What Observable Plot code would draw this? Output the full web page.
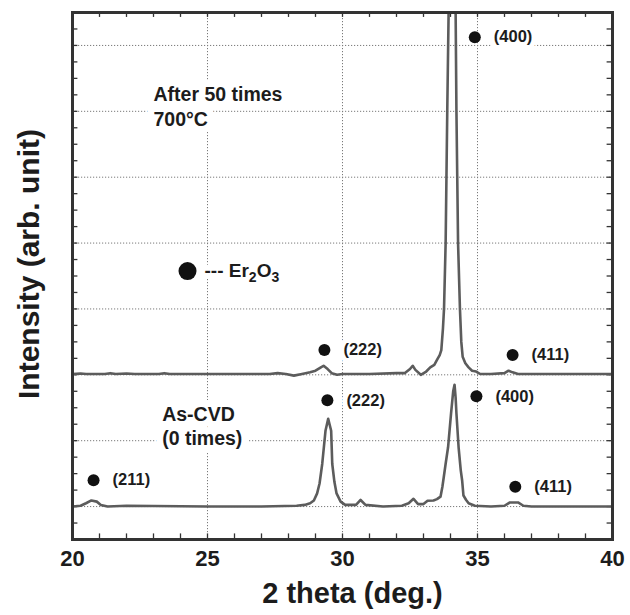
<!DOCTYPE html>
<html>
<head>
<meta charset="utf-8">
<script src="https://cdn.jsdelivr.net/npm/d3@7"></script>
<script src="https://cdn.jsdelivr.net/npm/@observablehq/plot@0.6"></script>
<style>
  html, body { margin: 0; padding: 0; background: #fff; }
  #chart { width: 630px; height: 615px; }
</style>
</head>
<body>
<div id="chart"></div>
<script>
// ---- Data ----
// Upper trace: "After 50 times 700°C" (offset baseline ~10)
const upperX = [20.0, 20.3, 20.5, 21.2, 21.4, 21.6, 22.0, 22.3, 23.2, 23.4, 23.6, 25.5, 27.3, 27.6, 27.9, 28.2, 28.5, 28.8, 29.0, 29.2, 29.3, 29.45, 29.6, 29.8, 30.0, 31.0, 32.0, 32.3, 32.5, 32.6, 32.7, 32.9, 33.1, 33.25, 33.4, 33.5, 33.6, 33.66, 33.72, 33.76, 33.82, 33.85, 33.88, 33.93, 34.0, 34.06, 34.12, 34.19, 34.22, 34.25, 34.28, 34.35, 34.4, 34.45, 34.55, 34.67, 34.8, 34.95, 35.1, 35.5, 36.0, 36.15, 36.3, 36.5, 40.0];
const upperY = [10.05, 10.08, 10.05, 10.05, 10.1, 10.05, 10.08, 10.05, 10.05, 10.1, 10.05, 10.05, 10.05, 10.1, 10.05, 9.95, 10.05, 10.15, 10.25, 10.45, 10.55, 10.35, 10.1, 10.0, 10.05, 10.05, 10.1, 10.1, 10.35, 10.55, 10.3, 10.0, 10.2, 10.45, 10.6, 10.9, 11.2, 11.5, 12.8, 14.0, 18.0, 22.0, 26.0, 32.0, 38.0, 40.0, 38.0, 32.0, 26.0, 22.0, 18.0, 14.0, 12.0, 11.1, 10.7, 10.45, 10.25, 10.2, 10.05, 10.05, 10.1, 10.25, 10.15, 10.05, 10.05];
// Lower trace: "As-CVD (0 times)" (baseline ~2)
const lowerX = [20.0, 20.3, 20.5, 20.7, 20.9, 21.05, 21.3, 22.0, 25.0, 27.0, 28.3, 28.6, 28.8, 28.94, 29.06, 29.15, 29.25, 29.37, 29.47, 29.52, 29.58, 29.62, 29.7, 29.78, 29.93, 30.1, 30.5, 30.67, 30.85, 31.5, 32.2, 32.45, 32.63, 32.8, 33.0, 33.15, 33.37, 33.5, 33.63, 33.7, 33.75, 33.82, 33.91, 34.02, 34.1, 34.15, 34.19, 34.22, 34.3, 34.38, 34.43, 34.48, 34.58, 34.67, 34.9, 35.5, 36.0, 36.2, 36.5, 36.7, 37.0, 40.0];
const lowerY = [2.0, 2.05, 2.2, 2.37, 2.3, 2.1, 2.0, 2.05, 2.0, 2.0, 2.05, 2.1, 2.2, 2.37, 2.8, 3.4, 4.6, 6.6, 7.33, 7.0, 6.6, 4.6, 3.5, 2.8, 2.3, 2.1, 2.1, 2.4, 2.1, 2.0, 2.05, 2.2, 2.47, 2.15, 2.15, 2.35, 2.37, 2.45, 2.6, 3.2, 3.78, 4.6, 5.6, 7.65, 9.0, 9.4, 8.6, 7.65, 5.6, 4.2, 3.6, 2.67, 2.4, 2.2, 2.05, 2.0, 2.05, 2.25, 2.25, 2.05, 2.0, 2.0];

// Peak annotations (dot + Miller index)
const peakLabels = ["(400)", "(222)", "(411)", "(222)", "(400)", "(411)", "(211)"];
const peakX = [34.9, 29.33, 36.3, 29.44, 34.96, 36.4, 20.78];
const peakY = [30.5, 11.5, 11.2, 8.45, 8.7, 3.2, 3.6];

// Sample notes
const noteLines = ["After 50 times", "700°C", "As-CVD", "(0 times)"];
const noteX = [23.0, 23.0, 23.32, 23.32];
const noteY = [27.0, 25.5, 7.6, 6.1];

// Legend
const legendText = ["--- Er2O3"];
const legendX = [24.26];
const legendY = [16.3];

// Axes
const xTickLabels = [20, 25, 30, 35, 40];
const xMinorTicks = [21, 22, 23, 24, 25, 26, 27, 28, 29, 30, 31, 32, 33, 34, 35, 36, 37, 38, 39];
const yMinorTicks = [1, 2, 3, 4, 5, 6, 7, 8, 9, 10, 11, 12, 13, 14, 15, 16, 17, 18, 19, 20, 21, 22, 23, 24, 25, 26, 27, 28, 29, 30, 31];
const xGrid = [25, 30, 35];
const yGrid = [2, 6, 10, 14, 18, 22, 26, 30];
const xTitle = "2 theta (deg.)";
const yTitle = "Intensity (arb. unit)";

// ---- Build tables ----
const upper = upperX.map((x, i) => ({x, y: upperY[i]}));
const lower = lowerX.map((x, i) => ({x, y: lowerY[i]}));
const peaks = peakLabels.map((t, i) => ({t, x: peakX[i], y: peakY[i]}));
const notes = noteLines.map((t, i) => ({t, x: noteX[i], y: noteY[i]}));
const legend = legendText.map((t, i) => ({t, x: legendX[i], y: legendY[i]}));

const FONT = "'Liberation Sans', Arial, Helvetica, sans-serif";
const INK = "#1c1c1c";
const LINE = "#5c5c5c";
const gridStyle = {stroke: "#7a7a7a", strokeWidth: 1, strokeDasharray: "1.2,1.8"};
const legendStyle = {x: "x", y: "y", text: "t", textAnchor: "start", dx: 17, fontSize: 19, fontWeight: "bold"};

const chart = Plot.plot({
  width: 630,
  height: 615,
  marginLeft: 72,
  marginRight: 18,
  marginTop: 12,
  marginBottom: 76,
  x: {domain: [20, 40]},
  y: {domain: [0, 32], axis: null},
  style: {fontFamily: FONT, background: "white", color: INK, overflow: "visible"},
  marks: [
    Plot.ruleX(xGrid, gridStyle),
    Plot.ruleY(yGrid, gridStyle),
    // notes & labels with white halo to interrupt grid
    Plot.text(notes, {x: "x", y: "y", text: "t", textAnchor: "start", fontSize: 19.5, fontWeight: "bold", fill: INK, stroke: "white", strokeWidth: 14, strokeLinejoin: "round", paintOrder: "stroke"}),
    Plot.text(legend, {...legendStyle, fill: "white", stroke: "white", strokeWidth: 12, strokeLinejoin: "round"}),
    Plot.text(legend, {...legendStyle, fill: INK}),
    Plot.dot(legend, {x: "x", y: "y", r: 9, fill: "#111"}),
    Plot.text(peaks, {x: "x", y: "y", text: "t", textAnchor: "start", dx: 19, fontSize: 16.5, fontWeight: "bold", fill: INK, stroke: "white", strokeWidth: 10, strokeLinejoin: "round", paintOrder: "stroke"}),
    Plot.dot(peaks, {x: "x", y: "y", r: 6, fill: "#111"}),
    // inward ticks on all four sides
    Plot.ruleX(xMinorTicks, {y1: 0, y2: 0.34, stroke: "#333", strokeWidth: 1.3}),
    Plot.ruleX(xMinorTicks, {y1: 32, y2: 31.7, stroke: "#333", strokeWidth: 1.3}),
    Plot.ruleY(yMinorTicks, {x1: 20, x2: 20.2, stroke: "#333", strokeWidth: 1.3}),
    Plot.ruleY(yMinorTicks, {x1: 40, x2: 39.8, stroke: "#333", strokeWidth: 1.3}),
    // traces
    Plot.line(lower, {x: "x", y: "y", stroke: LINE, strokeWidth: 2.6, clip: true}),
    Plot.line(upper, {x: "x", y: "y", stroke: LINE, strokeWidth: 2.6, clip: true}),
    Plot.frame({stroke: "#333", strokeWidth: 3}),
    // axes
    Plot.axisX(xTickLabels, {tickSize: 0, tickPadding: 11, fontSize: 22, fontWeight: "bold", label: null, fill: INK}),
    Plot.text([xTitle], {frameAnchor: "bottom", lineAnchor: "middle", textAnchor: "middle", dy: 54, dx: 10, fontSize: 29, fontWeight: "bold", fill: INK}),
    Plot.text([yTitle], {frameAnchor: "left", lineAnchor: "middle", textAnchor: "middle", rotate: -90, dx: -43, dy: -12, fontSize: 30, fontWeight: "bold", fill: INK})
  ]
});

// subscripts for Er2O3
d3.select(chart).selectAll("text").filter(function () { return this.textContent === "--- Er2O3"; })
  .each(function () {
    const t = d3.select(this);
    t.text(null);
    t.append("tspan").text("--- Er");
    t.append("tspan").attr("dy", "5").attr("font-size", "14").text("2");
    t.append("tspan").attr("dy", "-5").text("O");
    t.append("tspan").attr("dy", "5").attr("font-size", "14").text("3");
  });

document.getElementById("chart").appendChild(chart);
</script>
</body>
</html>
